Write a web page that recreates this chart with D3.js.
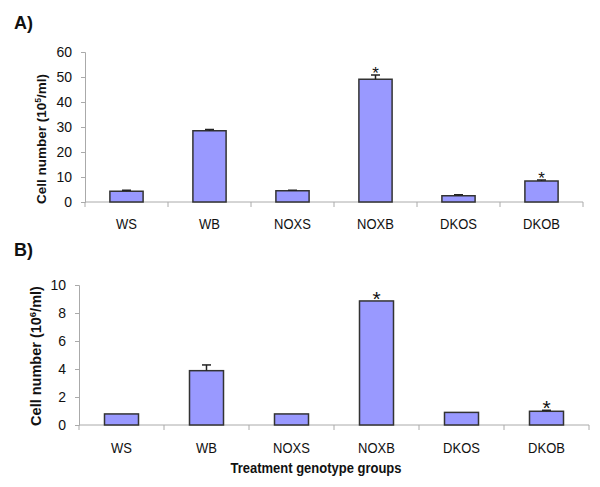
<!DOCTYPE html>
<html><head><meta charset="utf-8">
<script src="https://cdn.jsdelivr.net/npm/d3@7"></script>
<style>
body{margin:0;background:#fff;}
svg{display:block;font-family:"Liberation Sans",Arial,sans-serif;}
</style></head><body>
<svg id="c" width="600" height="487"></svg>
<script>
const categories = ["WS","WB","NOXS","NOXB","DKOS","DKOB"];
const valuesA = [4.3, 28.5, 4.5, 49.1, 2.5, 8.4];
const errorsA = [0.4, 0.5, 0.2, 1.7, 0.4, 0.4];
const sigA = [false,false,false,true,false,true];
const ticksA = [0,10,20,30,40,50,60];
const valuesB = [0.79, 3.88, 0.79, 8.86, 0.9, 0.98];
const errorsB = [0.0, 0.41, 0.0, 0.0, 0.0, 0.07];
const sigB = [false,false,false,true,false,true];
const ticksB = [0,2,4,6,8,10];

const svg = d3.select("#c");
const SY = 1.18; // vertical stretch of the reference's text

function panel(cfg){
  const g = svg.append("g");
  const x = d3.scaleBand().domain(categories).range([cfg.x0, cfg.x1]).paddingInner(0.6).paddingOuter(0.3);
  const y = d3.scaleLinear().domain([0, cfg.ymax]).range([cfg.yb, cfg.yt]);
  // y axis
  const ya = g.append("g").attr("transform",`translate(${cfg.x0},0)`)
    .call(d3.axisLeft(y).tickValues(cfg.ticks).tickSize(4).tickPadding(9));
  ya.select(".domain").attr("stroke","#aaa");
  ya.selectAll(".tick line").attr("stroke","#aaa");
  ya.selectAll(".tick text").attr("font-size",14).attr("fill","#111")
    .attr("font-family","Liberation Sans, Arial, sans-serif").attr("transform",`scale(1,1.1)`);
  // x axis with ticks at band boundaries
  const xa = g.append("g").attr("transform",`translate(0,${cfg.yb})`);
  xa.append("line").attr("x1",cfg.x0).attr("x2",cfg.x1).attr("stroke","#aaa");
  const step = (cfg.x1-cfg.x0)/categories.length;
  const bounds = d3.range(categories.length+1).map(i=>cfg.x0+i*step);
  xa.selectAll("line.t").data(bounds).join("line").attr("class","t")
    .attr("x1",d=>d).attr("x2",d=>d).attr("y1",0).attr("y2",5).attr("stroke","#aaa");
  const xl = d3.scaleBand().domain(categories).range([cfg.x0,cfg.x1]);
  g.selectAll("text.cat").data(categories).join("text").attr("class","cat")
    .attr("transform",d=>`translate(${xl(d)+xl.bandwidth()/2},${cfg.labY}) scale(1,${SY})`)
    .attr("text-anchor","middle").attr("font-size",13).attr("fill","#111").text(d=>d);
  // bars
  const data = categories.map((c,i)=>({c,v:cfg.values[i],e:cfg.errors[i],s:cfg.sig[i]}));
  const bw = x.bandwidth();
  const cx = d=>xl(d.c)+xl.bandwidth()/2;
  g.selectAll("rect.bar").data(data).join("rect").attr("class","bar")
    .attr("x",d=>cx(d)-bw/2).attr("width",bw)
    .attr("y",d=>y(d.v)).attr("height",d=>y(0)-y(d.v))
    .attr("fill","#9999ff").attr("stroke","#333").attr("stroke-width",1.5);
  const eb = data.filter(d=>d.e>0);
  g.selectAll("line.ev").data(eb).join("line").attr("class","ev")
    .attr("x1",cx).attr("x2",cx).attr("y1",d=>y(d.v)).attr("y2",d=>y(d.v+d.e))
    .attr("stroke","#222").attr("stroke-width",1.5);
  g.selectAll("line.ec").data(eb).join("line").attr("class","ec")
    .attr("x1",d=>cx(d)-4.5).attr("x2",d=>cx(d)+4.5).attr("y1",d=>y(d.v+d.e)).attr("y2",d=>y(d.v+d.e))
    .attr("stroke","#222").attr("stroke-width",1.5);
  g.selectAll("text.star").data(data.filter(d=>d.s)).join("text").attr("class","star")
    .attr("x",cx).attr("y",d=>y(d.v+d.e)+cfg.starDy)
    .attr("text-anchor","middle").attr("font-size",cfg.starSize).attr("fill","#111").text("*");
  // y title
  const t = g.append("text").attr("transform",`translate(${cfg.titleX},${cfg.titleY}) rotate(-90)`)
    .attr("text-anchor","middle").attr("font-size",cfg.titleSize).attr("font-weight","bold").attr("fill","#111");
  t.append("tspan").text("Cell number (10");
  t.append("tspan").attr("font-size",cfg.titleSize*0.65).attr("dy",-5).text(cfg.exp);
  t.append("tspan").attr("dy",5).text("/ml)");
  // panel label
  g.append("text").attr("x",14).attr("y",cfg.panelY).attr("font-size",18).attr("font-weight","bold").attr("fill","#111").text(cfg.panel);
}

panel({x0:85,x1:583,yt:52,yb:202,ymax:60,ticks:ticksA,values:valuesA,errors:errorsA,sig:sigA,
  labY:229,titleX:46,titleY:139,titleSize:13.5,exp:"5",panel:"A)",panelY:29,starDy:4,starSize:17});
panel({x0:79,x1:589,yt:285,yb:425,ymax:10,ticks:ticksB,values:valuesB,errors:errorsB,sig:sigB,
  labY:453,titleX:41,titleY:356,titleSize:14.5,exp:"6",panel:"B)",panelY:256,starDy:5,starSize:21});

svg.append("text").attr("transform",`translate(316,473) scale(1,${SY})`).attr("text-anchor","middle")
  .attr("font-size",13).attr("font-weight","bold").attr("fill","#111").text("Treatment genotype groups");
</script>
</body></html>
